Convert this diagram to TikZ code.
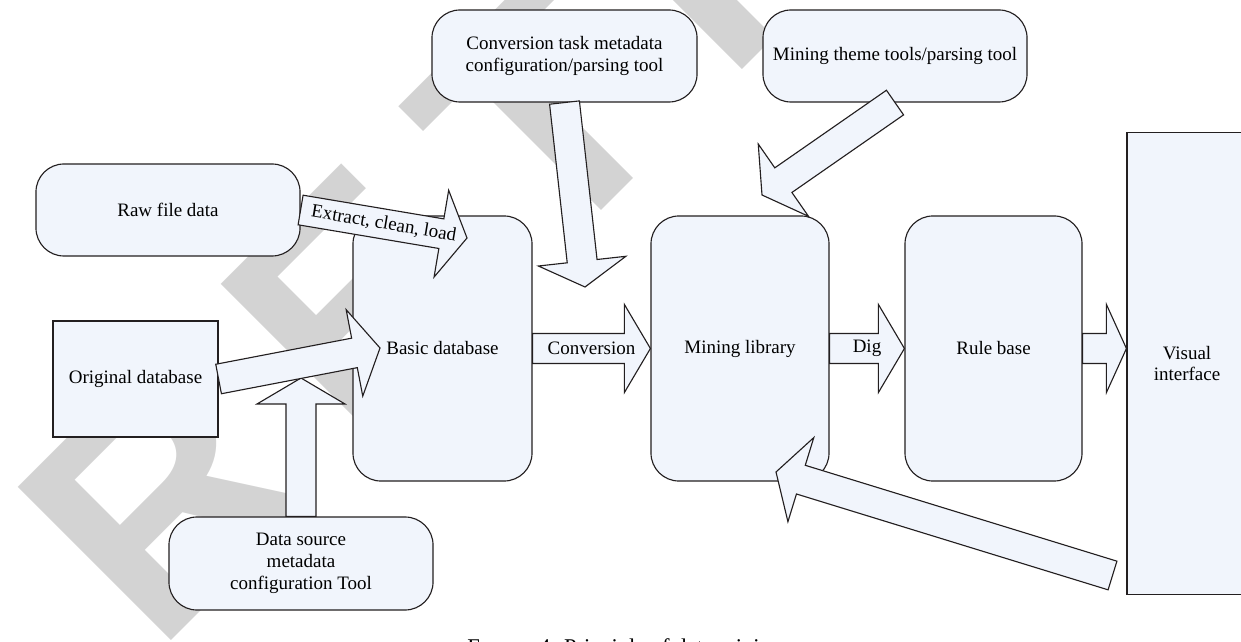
\documentclass[tikz,border=0pt]{standalone}
\usepackage{fontspec}
\setmainfont{Liberation Serif}
\newfontfamily\wmfont{Liberation Sans}
\usepackage{xcolor}
\usepackage{tikz}
\usetikzlibrary{calc}

\definecolor{boxfill}{RGB}{241,245,252}
\definecolor{wmgray}{RGB}{211,211,211}
\definecolor{edgecol}{RGB}{35,31,32}

% Толстая стрелка-блок: [длина головки]{начало}{острие}
\newcommand{\fatarrow}[3][0.65cm]{%
  \coordinate (fa-s) at (#2);
  \coordinate (fa-t) at (#3);
  \coordinate (fa-b) at ($(fa-t)!#1!(fa-s)$);
  \draw[arrowbox] ($(fa-s)!0.375cm!90:(fa-t)$) -- ($(fa-b)!0.375cm!-90:(fa-s)$)
    -- ($(fa-b)!1.1cm!-90:(fa-s)$) -- (fa-t) -- ($(fa-b)!1.1cm!90:(fa-s)$)
    -- ($(fa-b)!0.375cm!90:(fa-s)$) -- ($(fa-s)!0.375cm!-90:(fa-t)$) -- cycle;}

% Разрядка букв водяного знака
\newcommand{\wmgap}{\kern42pt}

\begin{document}
\begin{tikzpicture}[x=0.025cm, y=-0.025cm,
    roundbox/.style={draw=edgecol, fill=boxfill, line width=0.8pt, rounded corners=0.7cm,
      inner sep=0pt, align=center, font=\fontsize{13.5}{15.6}\selectfont},
    squarebox/.style={draw=edgecol, fill=boxfill, line width=0.8pt,
      inner sep=0pt, align=center, font=\fontsize{13.5}{15.6}\selectfont},
    arrowbox/.style={draw=edgecol, fill=boxfill, line width=0.8pt, line join=miter},
    lbl/.style={inner sep=0pt, font=\fontsize{13.5}{15.6}\selectfont},
    wmtext/.style={text=wmgray, inner sep=0pt, font=\wmfont\bfseries\fontsize{224}{224}\selectfont}]

        \useasboundingbox (0,0) rectangle (1241,642);

        % Водяной знак
        \node[wmtext, rotate=45, anchor=base west] (wm) at (156.5,655.5)
            {R\wmgap E\wmgap T\wmgap R\wmgap A\wmgap C\wmgap T\wmgap E\wmgap D};

        % Верхние блоки
        \node[roundbox, minimum width=6.625cm, minimum height=2.3cm] (conv) at (564.5,56)
            {Conversion task metadata\\configuration/parsing tool};
        \node[roundbox, minimum width=6.6cm, minimum height=2.3cm] (theme) at (895,56)
            {Mining theme tools/parsing tool};

        % Источники данных
        \node[roundbox, minimum width=6.6cm, minimum height=2.3cm] (raw) at (168,210) {Raw file data};
        \node[squarebox, minimum width=4.125cm, minimum height=2.9cm] (orig) at (135.5,379) {Original database};
        \node[roundbox, minimum width=6.6cm, minimum height=2.325cm] (ds) at (301,563.5)
            {Data source\\metadata\\configuration Tool};

        % Основная цепочка
        \node[roundbox, minimum width=4.475cm, minimum height=6.625cm] (basic) at (442.5,348.5) {Basic database};
        \node[roundbox, minimum width=4.45cm, minimum height=6.625cm] (mining) at (740,348.5) {Mining library};
        \node[roundbox, minimum width=4.425cm, minimum height=6.625cm] (rule) at (993.5,348.5) {Rule base};
        \node[squarebox, minimum width=3cm, minimum height=11.525cm] (vis) at (1187,363.5) {Visual\\interface};

        % Свободные концы стрелок
        \coordinate (tipextract) at (467,238);
        \coordinate (tiporig) at (380,348);
        \coordinate (tipds) at (301,378);
        \coordinate (tipconv) at (585,287);
        \coordinate (tiptheme) at (762,195);
        \coordinate (tailfb) at (1112.5,575.5);
        \coordinate (tipfb) at (776,472);

        % Стрелки
        \fatarrow{raw.east}{tipextract}
        \fatarrow{ds.north}{tipds}
        \fatarrow{orig.east}{tiporig}
        \fatarrow{conv.south}{tipconv}
        \fatarrow{theme.south}{tiptheme}
        \fatarrow{basic.east}{mining.west}
        \fatarrow{mining.east}{rule.west}
        \fatarrow[0.5cm]{rule.east}{rule.east -| vis.west}
        \fatarrow{tailfb}{tipfb}

        % Подписи стрелок
        \path (raw.east) -- (tipextract) node[lbl, midway, sloped] (lextract) {Extract, clean, load};
        \node[lbl] (lconv) at ($(basic.east)!0.5!(mining.west)$) {Conversion};
        \node[lbl] (ldig) at ($(mining.east)!0.5!(rule.west)$) {Dig};

        % Подпись рисунка
        \node[inner sep=0pt, anchor=north west, font=\fontsize{16}{19}\selectfont] (caption) at (467,638)
            {F{\fontsize{12.5}{15}\selectfont IGURE} 4: Principle of data mining.};

    \end{tikzpicture}
\end{document}
